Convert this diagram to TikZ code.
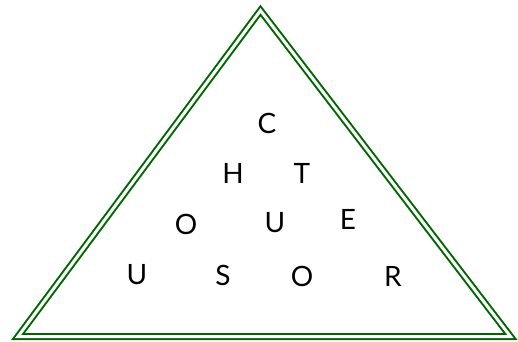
\documentclass[tikz,border=0pt]{standalone}
\usepackage{fontspec}
\setmainfont{Lato}
\usetikzlibrary{positioning}

\begin{document}
\begin{tikzpicture}[x=1pt, y=-1pt,
  letter/.style={font=\fontsize{28}{28}\selectfont, inner sep=0pt, anchor=center}]
\useasboundingbox (0,0) rectangle (518,341);
\draw[green!40!black, line width=2pt, double=white, double distance=3pt, line join=miter] (260.5,10.5) -- (18,336.5) -- (510.5,336.5) -- cycle;
\node[letter] (c1) at (267,123) {C};
\node[letter] (h1) at (233,173) {H};
\node[letter] (t1) at (302,173) {T};
\node[letter] (o1) at (186,224) {O};
\node[letter] (u1) at (275,223) {U};
\node[letter] (e1) at (348,219) {E};
\node[letter] (u2) at (137,275) {U};
\node[letter] (s1) at (223,275) {S};
\node[letter] (o2) at (302,276) {O};
\node[letter] (r1) at (393,276) {R};
\end{tikzpicture}
\end{document}
